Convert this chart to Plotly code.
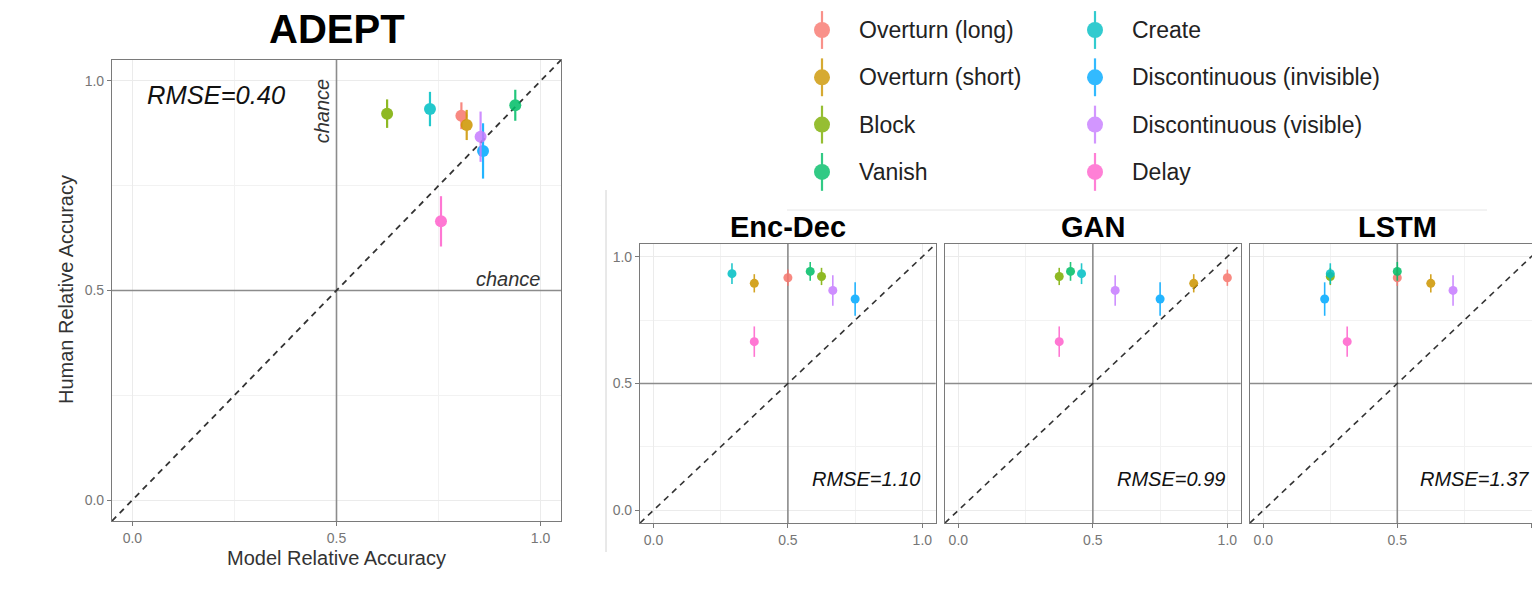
import plotly.graph_objects as go

W, H = 1532, 592

# ---- data -------------------------------------------------------------
CATEGORIES = [
    "Overturn (long)", "Overturn (short)", "Block", "Vanish",
    "Create", "Discontinuous (invisible)", "Discontinuous (visible)", "Delay",
]
COLORS = ["#F8766D", "#CD9600", "#7CAE00", "#00BE67",
          "#00BFC4", "#00A9FF", "#C77CFF", "#FF61CC"]

HUMAN = [0.917, 0.895, 0.922, 0.942, 0.933, 0.833, 0.867, 0.665]
HUMAN_ERR = [0.032, 0.036, 0.034, 0.037, 0.041, 0.066, 0.060, 0.060]

ADEPT = [0.806, 0.819, 0.624, 0.938, 0.729, 0.859, 0.853, 0.756]
ENC_DEC = [0.500, 0.375, 0.625, 0.583, 0.292, 0.750, 0.667, 0.375]
GAN = [1.000, 0.875, 0.375, 0.417, 0.458, 0.750, 0.583, 0.375]
LSTM = [0.500, 0.625, 0.250, 0.500, 0.250, 0.229, 0.708, 0.313]

RMSE = {"ADEPT": "0.40", "Enc-Dec": "1.10", "GAN": "0.99", "LSTM": "1.37"}
CHANCE = 0.5
AX_LO, AX_HI = -0.05, 1.05
TICKS = [0.0, 0.5, 1.0]
TICK_TEXT = ["0.0", "0.5", "1.0"]
MINOR_TICKS = [0.25, 0.75]

FONT = "Liberation Sans, Arial, Helvetica, sans-serif"


def fx(p):
    return p / W


def fy(p):
    return 1 - p / H


fig = go.Figure()

# subplot placement (pixels -> paper fractions)
PANELS = [
    # name, model values, xaxis, yaxis, x-domain px, y-domain px, x upper
    ("ADEPT", ADEPT, "x", "y", (112, 561), (60, 521), AX_HI),
    ("Enc-Dec", ENC_DEC, "x2", "y2", (640, 935.8), (244, 523), AX_HI),
    ("GAN", GAN, "x3", "y3", (944.9, 1240.8), (244, 523), AX_HI),
    ("LSTM", LSTM, "x4", "y4", (1249.9, 1532), (244, 523), 1.0026),
]

for name, model, xa, ya, xd, yd, xup in PANELS:
    big = name == "ADEPT"
    chance_line = dict(color="#8C8C8C", width=1.6)
    # chance lines
    fig.add_trace(go.Scatter(
        x=[CHANCE, CHANCE], y=[AX_LO, AX_HI], mode="lines", line=chance_line,
        xaxis=xa, yaxis=ya, hoverinfo="skip", showlegend=False,
    ))
    fig.add_trace(go.Scatter(
        x=[AX_LO, AX_HI], y=[CHANCE, CHANCE], mode="lines", line=chance_line,
        xaxis=xa, yaxis=ya, hoverinfo="skip", showlegend=False,
    ))
    # identity line
    fig.add_trace(go.Scatter(
        x=[AX_LO, AX_HI], y=[AX_LO, AX_HI], mode="lines",
        line=dict(color="#333333", width=1.8 if big else 1.6, dash="6px,5px"),
        xaxis=xa, yaxis=ya, hoverinfo="skip", showlegend=False,
    ))
    for i, cat in enumerate(CATEGORIES):
        fig.add_trace(go.Scatter(
            x=[model[i]], y=[HUMAN[i]], mode="markers", name=cat,
            marker=dict(size=12 if big else 9, color=COLORS[i]),
            error_y=dict(type="data", array=[HUMAN_ERR[i]], color=COLORS[i],
                         thickness=2.2 if big else 1.6, width=0),
            opacity=0.86, xaxis=xa, yaxis=ya, showlegend=False,
        ))

# ---- axes -------------------------------------------------------------
def axis_style(show_labels=True):
    return dict(
        tickvals=TICKS, ticktext=TICK_TEXT,
        showgrid=True, gridcolor="#EBEBEB", gridwidth=1,
        minor=dict(tickvals=MINOR_TICKS, showgrid=True,
                   gridcolor="#F2F2F2", gridwidth=0.8, ticks=""),
        showline=True, linecolor="#7A7A7A", linewidth=1.2, mirror=True,
        ticks="outside" if show_labels else "", ticklen=4, tickcolor="#7A7A7A",
        showticklabels=show_labels,
        tickfont=dict(family=FONT, size=14, color="#767676"),
        zeroline=False,
    )


layout_axes = {}
for k, (name, model, xa, ya, xd, yd, xup) in enumerate(PANELS):
    xkey = "xaxis" + ("" if k == 0 else str(k + 1))
    ykey = "yaxis" + ("" if k == 0 else str(k + 1))
    xs = axis_style(True)
    xs.update(domain=[fx(xd[0]), fx(xd[1])], range=[AX_LO, xup],
              anchor=ya)
    ys = axis_style(k <= 1)
    ys.update(domain=[fy(yd[1]), fy(yd[0])], range=[AX_LO, AX_HI],
              anchor=xa)
    layout_axes[xkey] = xs
    layout_axes[ykey] = ys

# legend keys drawn in their own hidden axes
LEG_X_DOM = (700, 1500)
LEG_Y_DOM = (0, 200)
COL_PX, COL_STEP = 822, 273
ROW_PX, ROW_STEP = 30, 47.3
x_lo = -(COL_PX - LEG_X_DOM[0]) / COL_STEP
x_hi = x_lo + (LEG_X_DOM[1] - LEG_X_DOM[0]) / COL_STEP
y_lo = -(ROW_PX - LEG_Y_DOM[0]) / ROW_STEP
y_hi = y_lo + (LEG_Y_DOM[1] - LEG_Y_DOM[0]) / ROW_STEP
layout_axes["xaxis5"] = dict(domain=[fx(LEG_X_DOM[0]), fx(LEG_X_DOM[1])],
                             range=[x_lo, x_hi], visible=False, anchor="y5")
layout_axes["yaxis5"] = dict(domain=[fy(LEG_Y_DOM[1]), fy(LEG_Y_DOM[0])],
                             range=[y_hi, y_lo], visible=False, anchor="x5")

annotations = []
for i, cat in enumerate(CATEGORIES):
    col, row = i // 4, i % 4
    fig.add_trace(go.Scatter(
        x=[col], y=[row], mode="markers",
        marker=dict(size=16, color=COLORS[i]),
        error_y=dict(type="data", array=[0.40], color=COLORS[i],
                     thickness=2.2, width=0),
        opacity=0.8, xaxis="x5", yaxis="y5", showlegend=False,
        hoverinfo="skip",
    ))
    annotations.append(dict(
        x=col + 35 / COL_STEP, y=row, xref="x5", yref="y5", text=cat,
        showarrow=False, xanchor="left", yanchor="middle",
        font=dict(family=FONT, size=23, color="#222222"),
    ))

# frame lines of the inset figure on the right
shapes = [
    dict(type="line", xref="paper", yref="paper",
         x0=fx(606), x1=fx(606), y0=fy(190), y1=fy(552),
         line=dict(color="#D2D2D2", width=1)),
    dict(type="line", xref="paper", yref="paper",
         x0=fx(787), x1=fx(1487), y0=fy(210), y1=fy(210),
         line=dict(color="#E6E6E6", width=1)),
]

# titles
for name, model, xa, ya, xd, yd, xup in PANELS:
    big = name == "ADEPT"
    cx = (xd[0] + xd[1]) / 2 if name != "LSTM" else 1397
    annotations.append(dict(
        x=fx(337 if big else cx), y=fy(29 if big else 227),
        xref="paper", yref="paper", text=f"<b>{name}</b>", showarrow=False,
        xanchor="center", yanchor="middle",
        font=dict(family=FONT, size=40 if big else 29, color="#000000"),
    ))

# RMSE labels
annotations.append(dict(
    x=0.032, y=0.967, xref="x", yref="y", text=f"<i>RMSE={RMSE['ADEPT']}</i>",
    showarrow=False, xanchor="left", yanchor="middle",
    font=dict(family=FONT, size=25.5, color="#111111"),
))
for name, model, xa, ya, xd, yd, xup in PANELS[1:]:
    annotations.append(dict(
        x=1.0, y=0.125, xref=xa, yref=ya, text=f"<i>RMSE={RMSE[name]}</i>",
        showarrow=False, xanchor="right", yanchor="middle",
        font=dict(family=FONT, size=20, color="#111111"),
    ))

# "chance" labels on the ADEPT panel
annotations.append(dict(
    x=1.007, y=0.527, xref="x", yref="y", text="<i>chance</i>",
    showarrow=False, xanchor="right", yanchor="middle",
    font=dict(family=FONT, size=20, color="#333333"),
))
annotations.append(dict(
    x=0.465, y=0.928, xref="x", yref="y", text="<i>chance</i>",
    showarrow=False, xanchor="center", yanchor="middle", textangle=-90,
    font=dict(family=FONT, size=20, color="#333333"),
))

# axis titles
annotations.append(dict(
    x=fx(336), y=fy(558), xref="paper", yref="paper",
    text="Model Relative Accuracy", showarrow=False,
    xanchor="center", yanchor="middle",
    font=dict(family=FONT, size=20, color="#333333"),
))
annotations.append(dict(
    x=fx(66), y=fy(290), xref="paper", yref="paper",
    text="Human Relative Accuracy", showarrow=False, textangle=-90,
    xanchor="center", yanchor="middle",
    font=dict(family=FONT, size=20, color="#333333"),
))

fig.update_layout(
    width=W, height=H,
    margin=dict(l=0, r=0, t=0, b=0),
    paper_bgcolor="white", plot_bgcolor="white",
    showlegend=False,
    shapes=shapes, annotations=annotations,
    font=dict(family=FONT),
    **layout_axes,
)

fig.write_html("out.html")
